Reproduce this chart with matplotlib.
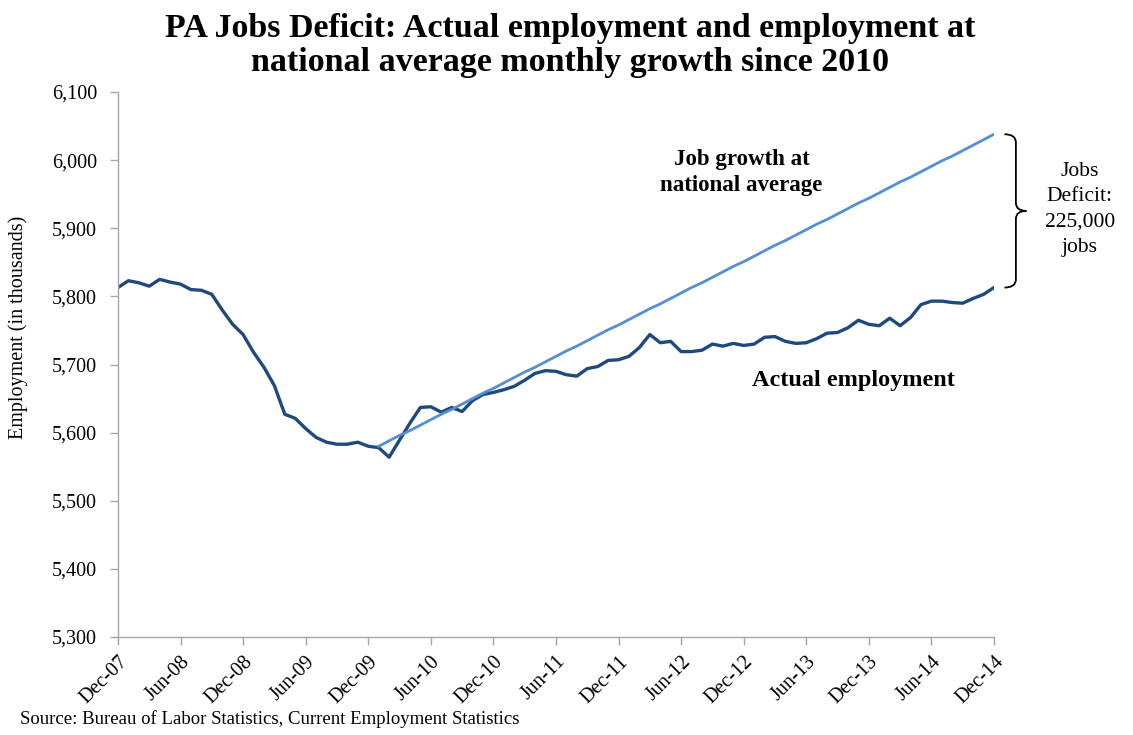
import matplotlib.pyplot as plt
import matplotlib.transforms as mtransforms
from matplotlib.path import Path
from matplotlib.patches import PathPatch

plt.rcParams['font.family'] = ['Liberation Serif', 'DejaVu Serif']

# monthly PA employment (thousands), Dec-07 .. Dec-14
actual = [5813, 5823, 5820, 5815, 5825, 5821, 5818, 5810, 5809, 5803, 5780, 5759,
          5744, 5718, 5696, 5669, 5627, 5621, 5606, 5593, 5586, 5583, 5583, 5586,
          5580, 5578, 5564, 5589, 5614, 5637, 5638, 5630, 5637, 5631, 5647, 5656,
          5659, 5663, 5668, 5677, 5687, 5691, 5690, 5685, 5683, 5694, 5697, 5706,
          5707, 5712, 5725, 5744, 5732, 5734, 5719, 5719, 5721, 5730, 5727, 5731,
          5728, 5730, 5740, 5741, 5734, 5731, 5732, 5738, 5746, 5747, 5754, 5765,
          5759, 5757, 5768, 5757, 5769, 5788, 5793, 5793, 5791, 5790, 5797, 5803,
          5813]

# employment at national average growth, Jan-10 .. Dec-14
national = [5580, 5588, 5596, 5603, 5611, 5619, 5627, 5634, 5642, 5650, 5658, 5665,
            5673, 5681, 5689, 5696, 5704, 5712, 5720, 5727, 5735, 5743, 5751, 5758,
            5766, 5774, 5782, 5789, 5797, 5805, 5813, 5820, 5828, 5836, 5844, 5851,
            5859, 5867, 5875, 5882, 5890, 5898, 5906, 5913, 5921, 5929, 5937, 5944,
            5952, 5960, 5968, 5975, 5983, 5991, 5999, 6006, 6014, 6022, 6030, 6038]
national_start = 25  # Jan-10

xtick_labels = ["Dec-07", "Jun-08", "Dec-08", "Jun-09", "Dec-09", "Jun-10", "Dec-10", "Jun-11",
                "Dec-11", "Jun-12", "Dec-12", "Jun-13", "Dec-13", "Jun-14", "Dec-14"]
yticks = [5300, 5400, 5500, 5600, 5700, 5800, 5900, 6000, 6100]

fig = plt.figure(figsize=(11.33, 7.35), dpi=100)
ax = fig.add_axes([0.1041, 0.1333, 0.7732, 0.7415])

x_act = list(range(len(actual)))
x_nat = list(range(national_start, national_start + len(national)))

ax.plot(x_act, actual, color="#1F497D", lw=2.4, solid_joinstyle="round")
ax.plot(x_nat, national, color="#558ED5", lw=2.0)

ax.set_xlim(0, len(actual) - 1)
ax.set_ylim(5300, 6100)
ax.set_xticks(range(0, len(actual), 6))
ax.set_xticklabels(xtick_labels, rotation=45, ha="right", rotation_mode="anchor", fontsize=14.5)
ax.set_yticks(yticks)
ax.set_yticklabels([f"{v:,}" for v in yticks], fontsize=14.5)
ax.tick_params(axis="both", direction="out", length=6, color="#A6A6A6", width=1)
ax.tick_params(axis="y", pad=9)
ax.tick_params(axis="x", pad=5)
for s in ["top", "right"]:
    ax.spines[s].set_visible(False)
for s in ["left", "bottom"]:
    ax.spines[s].set_color("#A6A6A6")
    ax.spines[s].set_linewidth(1)

fig.text(0.016, 0.555, "Employment (in thousands)", rotation=90, ha="center", va="center", fontsize=14.5)

fig.suptitle("PA Jobs Deficit: Actual employment and employment at\nnational average monthly growth since 2010",
             fontsize=24.5, fontweight="bold", y=0.982, x=0.503, linespacing=1.13)

ax.text(0.712, 0.895, "Job growth at\nnational average", transform=ax.transAxes,
        ha="center", va="top", fontsize=16.5, fontweight="bold", linespacing=1.3)
ax.text(0.84, 0.47, "Actual employment", transform=ax.transAxes,
        ha="center", va="center", fontsize=17.5, fontweight="bold")

# brace showing the deficit
trans = mtransforms.blended_transform_factory(ax.transAxes, ax.transData)
ytop, ybot = national[-1], actual[-1]
ymid = (ytop + ybot) / 2
xa, xb, xc = 1.012, 1.025, 1.037
r = 12
verts = [(xa, ytop), (xb, ytop), (xb, ytop - r),
         (xb, ymid + r), (xb, ymid), (xc, ymid),
         (xb, ymid), (xb, ymid - r),
         (xb, ybot + r), (xb, ybot), (xa, ybot)]
codes = [Path.MOVETO, Path.CURVE3, Path.CURVE3,
         Path.LINETO, Path.CURVE3, Path.CURVE3,
         Path.CURVE3, Path.CURVE3,
         Path.LINETO, Path.CURVE3, Path.CURVE3]
ax.add_patch(PathPatch(Path(verts, codes), transform=trans, fill=False,
                       edgecolor="black", lw=1.3, clip_on=False))
ax.text(1.098, ymid + 2, f"Jobs\nDeficit:\n{(ytop - ybot) * 1000:,}\njobs", transform=trans,
        ha="center", va="center", fontsize=15.5, linespacing=1.45)

fig.text(0.018, 0.015, "Source: Bureau of Labor Statistics, Current Employment Statistics", fontsize=13.5)

fig.savefig("out.png", dpi=100)
